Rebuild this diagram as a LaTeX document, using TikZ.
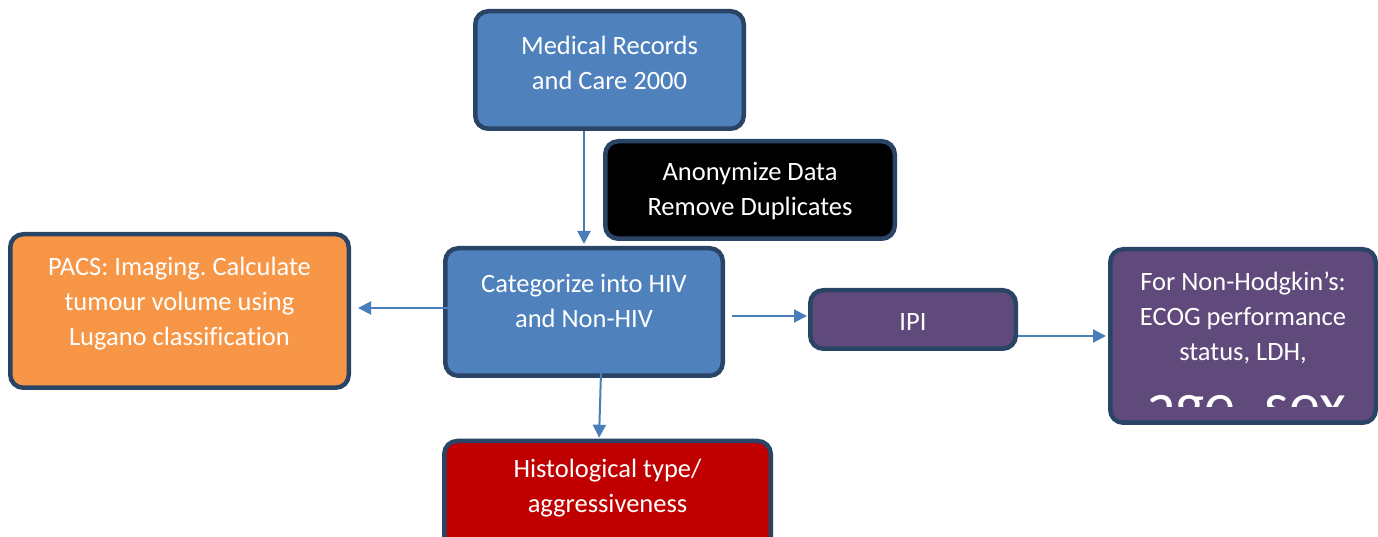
\documentclass[tikz,border=0pt]{standalone}
\usepackage{fontspec}
\setmainfont[Ligatures=NoCommon]{Carlito}
\frenchspacing
\usetikzlibrary{arrows.meta,calc}
\definecolor{boxblue}{HTML}{4F81BD}
\definecolor{boxnavy}{HTML}{2A4466}
\definecolor{boxorange}{HTML}{F79646}
\definecolor{boxpurple}{HTML}{604A7B}
\definecolor{boxred}{HTML}{C00000}
\definecolor{arrblue}{HTML}{4A7EBB}
\tikzset{
  box/.style={draw=boxnavy, line width=4.5pt, rounded corners=13pt, inner sep=0pt},
  txt/.style={text=white, align=center, inner sep=0pt, font=\fontsize{26.5}{35}\selectfont},
  arr/.style={draw=arrblue, line width=2pt, -{Triangle[length=13pt,width=13pt]}}
}
\begin{document}
\begin{tikzpicture}[x=1pt,y=1pt]
\useasboundingbox (0,0) rectangle (1378,537);
\clip (0,0) rectangle (1378,537);
% boxes
\node[box, fill=boxblue, minimum width=268.5pt, minimum height=117.5pt] (top) at (609.5,467) {};
\node[box, fill=black, minimum width=289.5pt, minimum height=97.5pt] (anon) at (750,347) {};
\node[box, fill=boxblue, minimum width=277.5pt, minimum height=127.5pt] (cat) at (584,225) {};
\node[box, fill=boxorange, minimum width=338.5pt, minimum height=153.5pt] (pacs) at (179.5,226) {};
\node[box, fill=boxpurple, minimum width=205.5pt, minimum height=58.5pt] (ipi) at (913,217.5) {};
\node[box, fill=boxpurple, minimum width=265.5pt, minimum height=173.5pt] (right) at (1243,201) {};
\node[box, fill=boxred, minimum width=326.5pt, minimum height=130pt] (red) at (607.5,31) {};
% texts
\node[txt] (topt) at (609.5,474.5) {Medical Records\\and Care 2000};
\node[txt] (anont) at (750,346) {Anonymize Data\\Remove Duplicates};
\node[txt] (catt) at (584,236) {Categorize into HIV\\and Non-HIV};
\node[txt] (pacst) at (179.5,233) {PACS: Imaging. Calculate\\tumour volume using\\Lugano classification};
\node[txt] (ipit) at (913,215) {IPI};
\node[txt] (rightt) at (1243,219) {For Non-Hodgkin’s:\\ECOG performance\\status, LDH,};
\node[txt] (redt) at (607.5,48.5) {Histological type/\\aggressiveness};
\begin{scope}
  \clip (1112,130) rectangle (1376,160);
  \node[text=white, inner sep=0pt, anchor=base, font=\fontsize{62}{70}\selectfont] (rightx) at (1246,111) {age, sex};
\end{scope}
% connectors
\coordinate (a2) at (452,229);
\coordinate (a3) at (732,221);
\coordinate (a5) at (601,165);
\draw[arr, shorten >=2pt] (top.south -| cat.north) -- (cat.north);
\draw[arr, shorten >=7pt] (a2) -- (pacs.east |- a2);
\draw[arr, shorten >=1pt] (a3) -- (ipi.west |- a3);
\draw[arr, shorten >=2pt] (ipi.east |- right.west) -- (right.west);
\draw[arr, shorten >=1pt] (a5) -- ([xshift=-8.5pt]red.north);
\end{tikzpicture}
\end{document}
